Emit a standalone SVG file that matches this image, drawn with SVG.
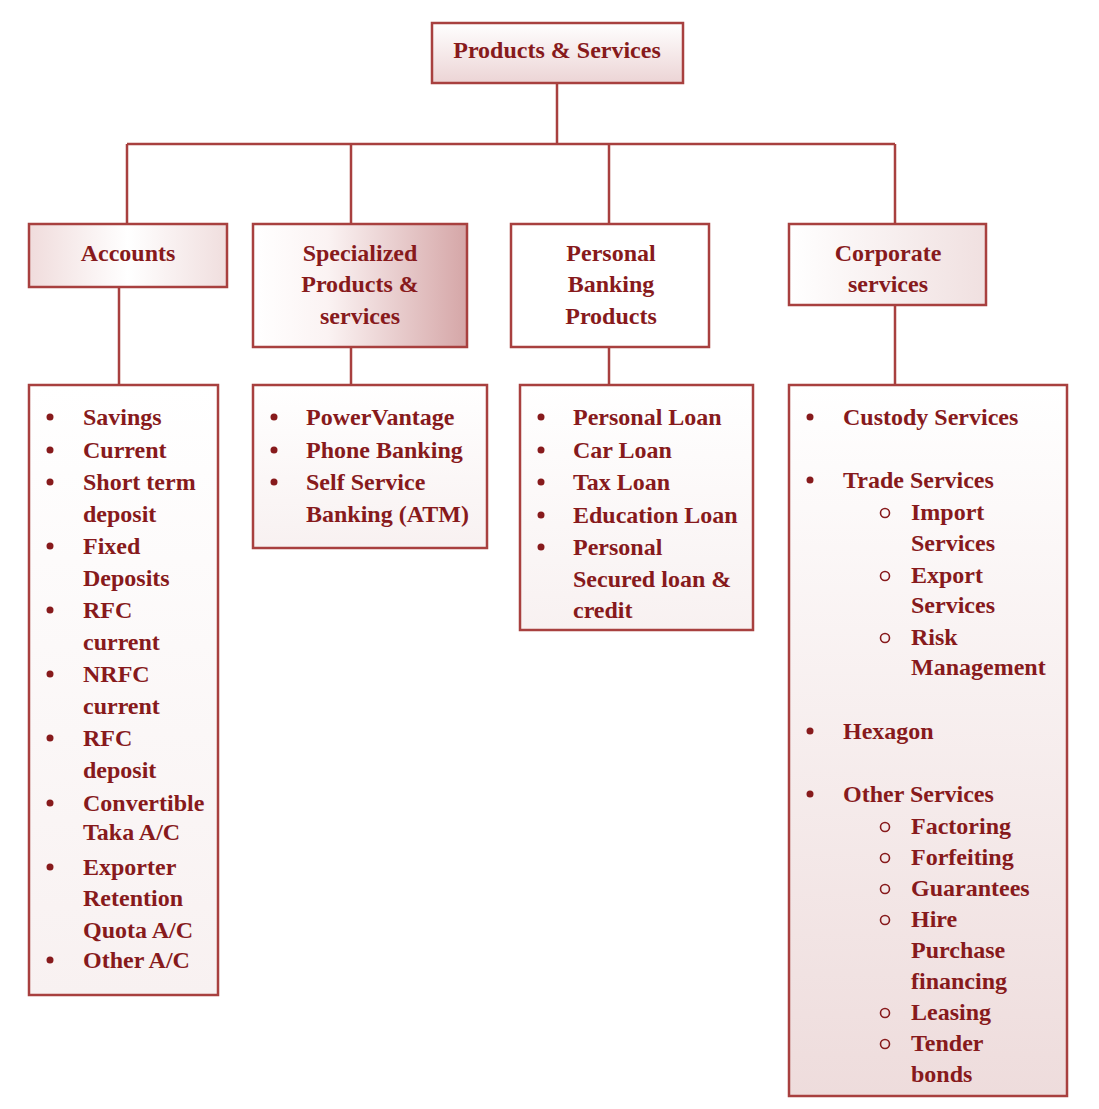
<svg xmlns="http://www.w3.org/2000/svg" width="1099" height="1109" viewBox="0 0 1099 1109">
<defs>
<linearGradient id="gTop" x1="0" y1="0" x2="0" y2="1"><stop offset="0" stop-color="#ffffff"/><stop offset="1" stop-color="#ecd4d5"/></linearGradient>
<linearGradient id="gAcc" x1="0" y1="0" x2="1" y2="0"><stop offset="0" stop-color="#f0dcdc"/><stop offset="0.5" stop-color="#ffffff"/><stop offset="1" stop-color="#f0dede"/></linearGradient>
<linearGradient id="gSpec" x1="0" y1="0" x2="1" y2="0"><stop offset="0" stop-color="#ffffff"/><stop offset="0.35" stop-color="#fbf3f3"/><stop offset="1" stop-color="#d5a6a7"/></linearGradient>
<linearGradient id="gCorp" x1="0" y1="0" x2="1" y2="0"><stop offset="0" stop-color="#ffffff"/><stop offset="1" stop-color="#f0e0e0"/></linearGradient>
<linearGradient id="gList" x1="0" y1="0" x2="0" y2="1"><stop offset="0" stop-color="#ffffff"/><stop offset="1" stop-color="#f8f1f1"/></linearGradient>
<linearGradient id="gCList" x1="0" y1="0" x2="0" y2="1"><stop offset="0" stop-color="#ffffff"/><stop offset="1" stop-color="#eedcdc"/></linearGradient>
</defs>
<style>
.box{stroke:#a8403f;stroke-width:2.5}
.t{font-family:"Liberation Serif",serif;font-weight:bold;font-size:24px;fill:#871a1c}
.c{text-anchor:middle}
.b{fill:#871a1c}
.o{fill:none;stroke:#871a1c;stroke-width:1.6}
.ln{stroke:#a8403f;stroke-width:2.5;fill:none}
</style>
<rect width="1099" height="1109" fill="#ffffff"/>
<g id="connectors">
<path class="ln" d="M557 83V144M127 144H895M127 144V224M351 144V224M609 144V224M895 144V224"/>
<path class="ln" d="M119 287V385M351 347V385M609 347V385M895 305V385"/>
</g>
<g id="root">
<rect class="box" x="432" y="23" width="251" height="60" fill="url(#gTop)"/>
<text class="t c" x="557" y="58">Products &amp; Services</text>
</g>
<g id="accounts">
<rect class="box" x="29" y="224" width="198" height="63" fill="url(#gAcc)"/>
<text class="t c" x="128" y="261">Accounts</text>
</g>
<g id="specialized">
<rect class="box" x="253" y="224" width="214" height="123" fill="url(#gSpec)"/>
<text class="t c" x="360" y="261">Specialized</text>
<text class="t c" x="360" y="292">Products &amp;</text>
<text class="t c" x="360" y="324">services</text>
</g>
<g id="personal">
<rect class="box" x="511" y="224" width="198" height="123" fill="#ffffff"/>
<text class="t c" x="611" y="261">Personal</text>
<text class="t c" x="611" y="292">Banking</text>
<text class="t c" x="611" y="324">Products</text>
</g>
<g id="corporate">
<rect class="box" x="789" y="224" width="197" height="81" fill="url(#gCorp)"/>
<text class="t c" x="888" y="261">Corporate</text>
<text class="t c" x="888" y="292">services</text>
</g>
<g id="accounts-list">
<rect class="box" x="29" y="385" width="189" height="610" fill="url(#gList)"/>
<g class="b">
<circle cx="50" cy="417" r="3.5"/><circle cx="50" cy="450" r="3.5"/><circle cx="50" cy="482" r="3.5"/><circle cx="50" cy="546" r="3.5"/><circle cx="50" cy="610" r="3.5"/><circle cx="50" cy="674" r="3.5"/><circle cx="50" cy="738" r="3.5"/><circle cx="50" cy="803" r="3.5"/><circle cx="50" cy="867" r="3.5"/><circle cx="50" cy="960" r="3.5"/>
</g>
<text class="t" x="83" y="425">Savings</text>
<text class="t" x="83" y="458">Current</text>
<text class="t" x="83" y="490">Short term</text>
<text class="t" x="83" y="522">deposit</text>
<text class="t" x="83" y="554">Fixed</text>
<text class="t" x="83" y="586">Deposits</text>
<text class="t" x="83" y="618">RFC</text>
<text class="t" x="83" y="650">current</text>
<text class="t" x="83" y="682">NRFC</text>
<text class="t" x="83" y="714">current</text>
<text class="t" x="83" y="746">RFC</text>
<text class="t" x="83" y="778">deposit</text>
<text class="t" x="83" y="811">Convertible</text>
<text class="t" x="83" y="840">Taka A/C</text>
<text class="t" x="83" y="875">Exporter</text>
<text class="t" x="83" y="906">Retention</text>
<text class="t" x="83" y="938">Quota A/C</text>
<text class="t" x="83" y="968">Other A/C</text>
</g>
<g id="specialized-list">
<rect class="box" x="253" y="385" width="234" height="163" fill="url(#gList)"/>
<g class="b"><circle cx="274" cy="417" r="3.5"/><circle cx="274" cy="450" r="3.5"/><circle cx="274" cy="482" r="3.5"/></g>
<text class="t" x="306" y="425">PowerVantage</text>
<text class="t" x="306" y="458">Phone Banking</text>
<text class="t" x="306" y="490">Self Service</text>
<text class="t" x="306" y="522">Banking (ATM)</text>
</g>
<g id="personal-list">
<rect class="box" x="520" y="385" width="233" height="245" fill="url(#gList)"/>
<g class="b"><circle cx="541" cy="417" r="3.5"/><circle cx="541" cy="450" r="3.5"/><circle cx="541" cy="482" r="3.5"/><circle cx="541" cy="515" r="3.5"/><circle cx="541" cy="547" r="3.5"/></g>
<text class="t" x="573" y="425">Personal Loan</text>
<text class="t" x="573" y="458">Car Loan</text>
<text class="t" x="573" y="490">Tax Loan</text>
<text class="t" x="573" y="523">Education Loan</text>
<text class="t" x="573" y="555">Personal</text>
<text class="t" x="573" y="587">Secured loan &amp;</text>
<text class="t" x="573" y="618">credit</text>
</g>
<g id="corporate-list">
<rect class="box" x="789" y="385" width="278" height="711" fill="url(#gCList)"/>
<g class="b"><circle cx="810" cy="417" r="3.5"/><circle cx="810" cy="480" r="3.5"/><circle cx="810" cy="731" r="3.5"/><circle cx="810" cy="794" r="3.5"/></g>
<g class="o"><circle cx="885" cy="513" r="4.5"/><circle cx="885" cy="576" r="4.5"/><circle cx="885" cy="638" r="4.5"/><circle cx="885" cy="827" r="4.5"/><circle cx="885" cy="858" r="4.5"/><circle cx="885" cy="889" r="4.5"/><circle cx="885" cy="920" r="4.5"/><circle cx="885" cy="1013" r="4.5"/><circle cx="885" cy="1044" r="4.5"/></g>
<text class="t" x="843" y="425">Custody Services</text>
<text class="t" x="843" y="488">Trade Services</text>
<text class="t" x="911" y="520">Import</text>
<text class="t" x="911" y="551">Services</text>
<text class="t" x="911" y="583">Export</text>
<text class="t" x="911" y="613">Services</text>
<text class="t" x="911" y="645">Risk</text>
<text class="t" x="911" y="675">Management</text>
<text class="t" x="843" y="739">Hexagon</text>
<text class="t" x="843" y="802">Other Services</text>
<text class="t" x="911" y="834">Factoring</text>
<text class="t" x="911" y="865">Forfeiting</text>
<text class="t" x="911" y="896">Guarantees</text>
<text class="t" x="911" y="927">Hire</text>
<text class="t" x="911" y="958">Purchase</text>
<text class="t" x="911" y="989">financing</text>
<text class="t" x="911" y="1020">Leasing</text>
<text class="t" x="911" y="1051">Tender</text>
<text class="t" x="911" y="1082">bonds</text>
</g>
</svg>
